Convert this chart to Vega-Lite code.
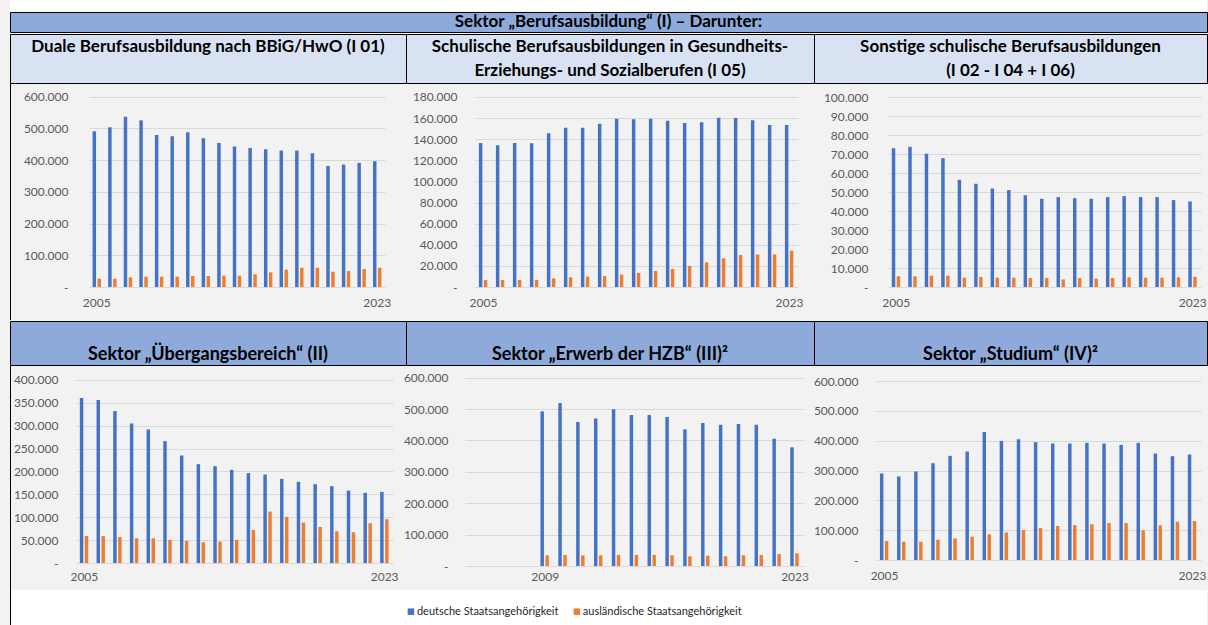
{
  "$schema": "https://vega.github.io/schema/vega-lite/v6.json",
  "background": "#F2F2F2",
  "padding": {"left": 9, "top": 0, "right": 0, "bottom": 0},
  "columns": 1,
  "spacing": 0,
  "datasets": {
    "vals": [
      {"p":"I01","year":2005,"g":"de","v":490900},{"p":"I01","year":2006,"g":"de","v":503500},{"p":"I01","year":2007,"g":"de","v":537000},{"p":"I01","year":2008,"g":"de","v":525500},{"p":"I01","year":2009,"g":"de","v":479400},{"p":"I01","year":2010,"g":"de","v":475200},{"p":"I01","year":2011,"g":"de","v":487800},{"p":"I01","year":2012,"g":"de","v":468900},{"p":"I01","year":2013,"g":"de","v":454200},{"p":"I01","year":2014,"g":"de","v":442700},{"p":"I01","year":2015,"g":"de","v":438500},{"p":"I01","year":2016,"g":"de","v":434300},{"p":"I01","year":2017,"g":"de","v":430100},{"p":"I01","year":2018,"g":"de","v":430100},{"p":"I01","year":2019,"g":"de","v":421700},{"p":"I01","year":2020,"g":"de","v":381800},{"p":"I01","year":2021,"g":"de","v":386000},{"p":"I01","year":2022,"g":"de","v":391300},{"p":"I01","year":2023,"g":"de","v":396500},
      {"p":"I01","year":2005,"g":"aus","v":26200},{"p":"I01","year":2006,"g":"aus","v":26200},{"p":"I01","year":2007,"g":"aus","v":30400},{"p":"I01","year":2008,"g":"aus","v":32500},{"p":"I01","year":2009,"g":"aus","v":32500},{"p":"I01","year":2010,"g":"aus","v":32500},{"p":"I01","year":2011,"g":"aus","v":34600},{"p":"I01","year":2012,"g":"aus","v":34600},{"p":"I01","year":2013,"g":"aus","v":35700},{"p":"I01","year":2014,"g":"aus","v":35700},{"p":"I01","year":2015,"g":"aus","v":39900},{"p":"I01","year":2016,"g":"aus","v":46200},{"p":"I01","year":2017,"g":"aus","v":54500},{"p":"I01","year":2018,"g":"aus","v":60800},{"p":"I01","year":2019,"g":"aus","v":60800},{"p":"I01","year":2020,"g":"aus","v":48300},{"p":"I01","year":2021,"g":"aus","v":50300},{"p":"I01","year":2022,"g":"aus","v":56600},{"p":"I01","year":2023,"g":"aus","v":60800},
      {"p":"I05","year":2005,"g":"de","v":136400},{"p":"I05","year":2006,"g":"de","v":134200},{"p":"I05","year":2007,"g":"de","v":136400},{"p":"I05","year":2008,"g":"de","v":136100},{"p":"I05","year":2009,"g":"de","v":145600},{"p":"I05","year":2010,"g":"de","v":150900},{"p":"I05","year":2011,"g":"de","v":150900},{"p":"I05","year":2012,"g":"de","v":154700},{"p":"I05","year":2013,"g":"de","v":159500},{"p":"I05","year":2014,"g":"de","v":158800},{"p":"I05","year":2015,"g":"de","v":159500},{"p":"I05","year":2016,"g":"de","v":157600},{"p":"I05","year":2017,"g":"de","v":155400},{"p":"I05","year":2018,"g":"de","v":156000},{"p":"I05","year":2019,"g":"de","v":160400},{"p":"I05","year":2020,"g":"de","v":160100},{"p":"I05","year":2021,"g":"de","v":157900},{"p":"I05","year":2022,"g":"de","v":153500},{"p":"I05","year":2023,"g":"de","v":153500},
      {"p":"I05","year":2005,"g":"aus","v":6600},{"p":"I05","year":2006,"g":"aus","v":6600},{"p":"I05","year":2007,"g":"aus","v":6600},{"p":"I05","year":2008,"g":"aus","v":6600},{"p":"I05","year":2009,"g":"aus","v":8200},{"p":"I05","year":2010,"g":"aus","v":9200},{"p":"I05","year":2011,"g":"aus","v":9800},{"p":"I05","year":2012,"g":"aus","v":10400},{"p":"I05","year":2013,"g":"aus","v":11700},{"p":"I05","year":2014,"g":"aus","v":13300},{"p":"I05","year":2015,"g":"aus","v":15200},{"p":"I05","year":2016,"g":"aus","v":17100},{"p":"I05","year":2017,"g":"aus","v":19900},{"p":"I05","year":2018,"g":"aus","v":23400},{"p":"I05","year":2019,"g":"aus","v":27200},{"p":"I05","year":2020,"g":"aus","v":30300},{"p":"I05","year":2021,"g":"aus","v":30900},{"p":"I05","year":2022,"g":"aus","v":30900},{"p":"I05","year":2023,"g":"aus","v":34400},
      {"p":"I02","year":2005,"g":"de","v":73200},{"p":"I02","year":2006,"g":"de","v":73900},{"p":"I02","year":2007,"g":"de","v":70200},{"p":"I02","year":2008,"g":"de","v":67900},{"p":"I02","year":2009,"g":"de","v":56500},{"p":"I02","year":2010,"g":"de","v":54400},{"p":"I02","year":2011,"g":"de","v":51900},{"p":"I02","year":2012,"g":"de","v":51100},{"p":"I02","year":2013,"g":"de","v":48400},{"p":"I02","year":2014,"g":"de","v":46500},{"p":"I02","year":2015,"g":"de","v":47400},{"p":"I02","year":2016,"g":"de","v":46800},{"p":"I02","year":2017,"g":"de","v":46500},{"p":"I02","year":2018,"g":"de","v":47400},{"p":"I02","year":2019,"g":"de","v":47900},{"p":"I02","year":2020,"g":"de","v":47400},{"p":"I02","year":2021,"g":"de","v":47400},{"p":"I02","year":2022,"g":"de","v":45800},{"p":"I02","year":2023,"g":"de","v":45100},
      {"p":"I02","year":2005,"g":"aus","v":5600},{"p":"I02","year":2006,"g":"aus","v":5600},{"p":"I02","year":2007,"g":"aus","v":6000},{"p":"I02","year":2008,"g":"aus","v":6000},{"p":"I02","year":2009,"g":"aus","v":4900},{"p":"I02","year":2010,"g":"aus","v":5300},{"p":"I02","year":2011,"g":"aus","v":4900},{"p":"I02","year":2012,"g":"aus","v":4900},{"p":"I02","year":2013,"g":"aus","v":4700},{"p":"I02","year":2014,"g":"aus","v":4700},{"p":"I02","year":2015,"g":"aus","v":4000},{"p":"I02","year":2016,"g":"aus","v":4700},{"p":"I02","year":2017,"g":"aus","v":4400},{"p":"I02","year":2018,"g":"aus","v":4700},{"p":"I02","year":2019,"g":"aus","v":5100},{"p":"I02","year":2020,"g":"aus","v":4900},{"p":"I02","year":2021,"g":"aus","v":4900},{"p":"I02","year":2022,"g":"aus","v":5100},{"p":"I02","year":2023,"g":"aus","v":5400},
      {"p":"II","year":2005,"g":"de","v":360600},{"p":"II","year":2006,"g":"de","v":356200},{"p":"II","year":2007,"g":"de","v":332100},{"p":"II","year":2008,"g":"de","v":305100},{"p":"II","year":2009,"g":"de","v":292000},{"p":"II","year":2010,"g":"de","v":266400},{"p":"II","year":2011,"g":"de","v":235000},{"p":"II","year":2012,"g":"de","v":216100},{"p":"II","year":2013,"g":"de","v":211700},{"p":"II","year":2014,"g":"de","v":203600},{"p":"II","year":2015,"g":"de","v":196400},{"p":"II","year":2016,"g":"de","v":193400},{"p":"II","year":2017,"g":"de","v":183900},{"p":"II","year":2018,"g":"de","v":177400},{"p":"II","year":2019,"g":"de","v":172300},{"p":"II","year":2020,"g":"de","v":167900},{"p":"II","year":2021,"g":"de","v":158400},{"p":"II","year":2022,"g":"de","v":153300},{"p":"II","year":2023,"g":"de","v":155500},
      {"p":"II","year":2005,"g":"aus","v":59100},{"p":"II","year":2006,"g":"aus","v":59100},{"p":"II","year":2007,"g":"aus","v":56900},{"p":"II","year":2008,"g":"aus","v":54000},{"p":"II","year":2009,"g":"aus","v":54000},{"p":"II","year":2010,"g":"aus","v":50400},{"p":"II","year":2011,"g":"aus","v":48200},{"p":"II","year":2012,"g":"aus","v":45300},{"p":"II","year":2013,"g":"aus","v":46700},{"p":"II","year":2014,"g":"aus","v":50400},{"p":"II","year":2015,"g":"aus","v":72300},{"p":"II","year":2016,"g":"aus","v":112400},{"p":"II","year":2017,"g":"aus","v":100700},{"p":"II","year":2018,"g":"aus","v":88300},{"p":"II","year":2019,"g":"aus","v":78800},{"p":"II","year":2020,"g":"aus","v":69300},{"p":"II","year":2021,"g":"aus","v":67200},{"p":"II","year":2022,"g":"aus","v":86900},{"p":"II","year":2023,"g":"aus","v":95600},
      {"p":"III","year":2009,"g":"de","v":492700},{"p":"III","year":2010,"g":"de","v":519300},{"p":"III","year":2011,"g":"de","v":458800},{"p":"III","year":2012,"g":"de","v":470400},{"p":"III","year":2013,"g":"de","v":499100},{"p":"III","year":2014,"g":"de","v":481100},{"p":"III","year":2015,"g":"de","v":481100},{"p":"III","year":2016,"g":"de","v":474700},{"p":"III","year":2017,"g":"de","v":435400},{"p":"III","year":2018,"g":"de","v":455600},{"p":"III","year":2019,"g":"de","v":450300},{"p":"III","year":2020,"g":"de","v":452400},{"p":"III","year":2021,"g":"de","v":450300},{"p":"III","year":2022,"g":"de","v":405700},{"p":"III","year":2023,"g":"de","v":378100},
      {"p":"III","year":2009,"g":"aus","v":34000},{"p":"III","year":2010,"g":"aus","v":35000},{"p":"III","year":2011,"g":"aus","v":34000},{"p":"III","year":2012,"g":"aus","v":34000},{"p":"III","year":2013,"g":"aus","v":35000},{"p":"III","year":2014,"g":"aus","v":35000},{"p":"III","year":2015,"g":"aus","v":35000},{"p":"III","year":2016,"g":"aus","v":34000},{"p":"III","year":2017,"g":"aus","v":30800},{"p":"III","year":2018,"g":"aus","v":32900},{"p":"III","year":2019,"g":"aus","v":30800},{"p":"III","year":2020,"g":"aus","v":34000},{"p":"III","year":2021,"g":"aus","v":35000},{"p":"III","year":2022,"g":"aus","v":38200},{"p":"III","year":2023,"g":"aus","v":40400},
      {"p":"IV","year":2005,"g":"de","v":290000},{"p":"IV","year":2006,"g":"de","v":279900},{"p":"IV","year":2007,"g":"de","v":296700},{"p":"IV","year":2008,"g":"de","v":324500},{"p":"IV","year":2009,"g":"de","v":349100},{"p":"IV","year":2010,"g":"de","v":363600},{"p":"IV","year":2011,"g":"de","v":429400},{"p":"IV","year":2012,"g":"de","v":399300},{"p":"IV","year":2013,"g":"de","v":404800},{"p":"IV","year":2014,"g":"de","v":394800},{"p":"IV","year":2015,"g":"de","v":390300},{"p":"IV","year":2016,"g":"de","v":390300},{"p":"IV","year":2017,"g":"de","v":392600},{"p":"IV","year":2018,"g":"de","v":390300},{"p":"IV","year":2019,"g":"de","v":385900},{"p":"IV","year":2020,"g":"de","v":392600},{"p":"IV","year":2021,"g":"de","v":356900},{"p":"IV","year":2022,"g":"de","v":347900},{"p":"IV","year":2023,"g":"de","v":353500},
      {"p":"IV","year":2005,"g":"aus","v":63600},{"p":"IV","year":2006,"g":"aus","v":61300},{"p":"IV","year":2007,"g":"aus","v":61300},{"p":"IV","year":2008,"g":"aus","v":68000},{"p":"IV","year":2009,"g":"aus","v":72500},{"p":"IV","year":2010,"g":"aus","v":78100},{"p":"IV","year":2011,"g":"aus","v":85900},{"p":"IV","year":2012,"g":"aus","v":92600},{"p":"IV","year":2013,"g":"aus","v":100400},{"p":"IV","year":2014,"g":"aus","v":107000},{"p":"IV","year":2015,"g":"aus","v":113800},{"p":"IV","year":2016,"g":"aus","v":117100},{"p":"IV","year":2017,"g":"aus","v":119300},{"p":"IV","year":2018,"g":"aus","v":123800},{"p":"IV","year":2019,"g":"aus","v":123800},{"p":"IV","year":2020,"g":"aus","v":99300},{"p":"IV","year":2021,"g":"aus","v":116000},{"p":"IV","year":2022,"g":"aus","v":128300},{"p":"IV","year":2023,"g":"aus","v":130500}
    ],
    "legendItems": [
      {"g":"de","label":"deutsche Staatsangehörigkeit"},
      {"g":"aus","label":"ausländische Staatsangehörigkeit"}
    ]
  },
  "concat": [
    {
      "width": 1197, "height": 11,
      "view": {"fill": "#FFFFFF", "stroke": null},
      "data": {"values": []},
      "mark": "point"
    },
    {
      "width": 1197, "height": 20,
      "view": {"fill": "#8EAADB", "stroke": "#000000", "strokeWidth": 1},
      "data": {"values": [{}]},
      "mark": {"type": "text", "clip": true, "text": "Sektor „Berufsausbildung“ (I) – Darunter:", "font": "Lato", "fontSize": 17, "fontWeight": "bold", "color": "#000000", "align": "center", "baseline": "middle"}
    },
    {
      "hconcat": [
        {
          "width": 396, "height": 49,
          "view": {"fill": "#D9E2F3", "stroke": "#000000", "strokeWidth": 1},
          "data": {"values": [{}]},
          "mark": {"type": "text", "clip": true, "text": ["Duale Berufsausbildung nach BBiG/HwO (I 01)", ""], "dy": -12, "lineHeight": 24, "font": "Lato", "fontSize": 17, "fontWeight": "bold", "color": "#000000", "align": "center", "baseline": "middle"}
        },
        {
          "width": 408, "height": 49,
          "view": {"fill": "#D9E2F3", "stroke": "#000000", "strokeWidth": 1},
          "data": {"values": [{}]},
          "mark": {"type": "text", "clip": true, "text": ["Schulische Berufsausbildungen in Gesundheits-", "Erziehungs- und Sozialberufen (I 05)"], "dy": -12, "lineHeight": 24, "font": "Lato", "fontSize": 17, "fontWeight": "bold", "color": "#000000", "align": "center", "baseline": "middle"}
        },
        {
          "width": 393, "height": 49,
          "view": {"fill": "#D9E2F3", "stroke": "#000000", "strokeWidth": 1},
          "data": {"values": [{}]},
          "mark": {"type": "text", "clip": true, "text": ["Sonstige schulische Berufsausbildungen", "(I 02 - I 04 + I 06)"], "dy": -12, "lineHeight": 24, "font": "Lato", "fontSize": 17, "fontWeight": "bold", "color": "#000000", "align": "center", "baseline": "middle"}
        }
      ],
      "spacing": 0,
      "bounds": "flush"
    },
    {
      "hconcat": [
        {
          "width": 1, "height": 236,
          "view": {"fill": "#000000", "stroke": null},
          "data": {"values": []},
          "mark": "point"
        },
        {
          "hconcat": [
            {
              "width": 296, "height": 203,
              "data": {"name": "vals"},
              "transform": [{"filter": "datum.p === 'I01'"}],
              "mark": {"type": "bar"},
              "encoding": {
                "x": {"field": "year", "type": "ordinal", "title": null,
                      "scale": {"domain": [2005,2006,2007,2008,2009,2010,2011,2012,2013,2014,2015,2016,2017,2018,2019,2020,2021,2022,2023], "paddingInner": 0.46, "paddingOuter": 0.23},
                      "axis": {"values": [2005, 2023], "labelAngle": 0, "labelPadding": 10, "minExtent": 33, "maxExtent": 33}},
                "xOffset": {"field": "g", "scale": {"domain": ["de", "aus"], "paddingInner": 0.3, "paddingOuter": 0}},
                "y": {"field": "v", "type": "quantitative", "title": null,
                      "scale": {"domain": [0, 640000], "nice": false},
                      "axis": {"values": [0,100000,200000,300000,400000,500000,600000], "labelPadding": 21, "minExtent": 78, "maxExtent": 78,
                               "labelExpr": "datum.value === 0 ? '-\u00a0\u00a0\u00a0' : replace(format(datum.value, ','), ',', '.')"}},
                "color": {"field": "g", "scale": {"domain": ["de", "aus"], "range": ["#4472C4", "#ED7D31"]}, "legend": null}
              }
            },
            {
              "width": 323, "height": 203,
              "data": {"name": "vals"},
              "transform": [{"filter": "datum.p === 'I05'"}],
              "mark": {"type": "bar"},
              "encoding": {
                "x": {"field": "year", "type": "ordinal", "title": null,
                      "scale": {"domain": [2005,2006,2007,2008,2009,2010,2011,2012,2013,2014,2015,2016,2017,2018,2019,2020,2021,2022,2023], "paddingInner": 0.46, "paddingOuter": 0.23},
                      "axis": {"values": [2005, 2023], "labelAngle": 0, "labelPadding": 10, "minExtent": 33, "maxExtent": 33}},
                "xOffset": {"field": "g", "scale": {"domain": ["de", "aus"], "paddingInner": 0.3, "paddingOuter": 0}},
                "y": {"field": "v", "type": "quantitative", "title": null,
                      "scale": {"domain": [0, 192300], "nice": false},
                      "axis": {"values": [0,20000,40000,60000,80000,100000,120000,140000,160000,180000], "labelPadding": 18,
                               "labelExpr": "datum.value === 0 ? '-\u00a0\u00a0\u00a0' : replace(format(datum.value, ','), ',', '.')"}},
                "color": {"field": "g", "scale": {"domain": ["de", "aus"], "range": ["#4472C4", "#ED7D31"]}, "legend": null}
              }
            },
            {
              "width": 313, "height": 203,
              "data": {"name": "vals"},
              "transform": [{"filter": "datum.p === 'I02'"}],
              "mark": {"type": "bar"},
              "encoding": {
                "x": {"field": "year", "type": "ordinal", "title": null,
                      "scale": {"domain": [2005,2006,2007,2008,2009,2010,2011,2012,2013,2014,2015,2016,2017,2018,2019,2020,2021,2022,2023], "paddingInner": 0.46, "paddingOuter": 0.23},
                      "axis": {"values": [2005, 2023], "labelAngle": 0, "labelPadding": 10, "minExtent": 33, "maxExtent": 33}},
                "xOffset": {"field": "g", "scale": {"domain": ["de", "aus"], "paddingInner": 0.3, "paddingOuter": 0}},
                "y": {"field": "v", "type": "quantitative", "title": null,
                      "scale": {"domain": [0, 107000], "nice": false},
                      "axis": {"values": [0,10000,20000,30000,40000,50000,60000,70000,80000,90000,100000], "labelPadding": 20,
                               "labelExpr": "datum.value === 0 ? '-\u00a0\u00a0\u00a0' : replace(format(datum.value, ','), ',', '.')"}},
                "color": {"field": "g", "scale": {"domain": ["de", "aus"], "range": ["#4472C4", "#ED7D31"]}, "legend": null}
              }
            }
          ],
          "spacing": 90,
          "bounds": "flush"
        }
      ],
      "spacing": 0
    },
    {
      "hconcat": [
        {
          "width": 396, "height": 44,
          "view": {"fill": "#8EAADB", "stroke": "#000000", "strokeWidth": 1},
          "data": {"values": [{}]},
          "mark": {"type": "text", "clip": true, "text": ["", "Sektor „Übergangsbereich“ (II)"], "dy": -12, "lineHeight": 24, "font": "Lato", "fontSize": 18, "fontWeight": "bold", "color": "#000000", "align": "center", "baseline": "middle"}
        },
        {
          "width": 408, "height": 44,
          "view": {"fill": "#8EAADB", "stroke": "#000000", "strokeWidth": 1},
          "data": {"values": [{}]},
          "mark": {"type": "text", "clip": true, "text": ["", "Sektor „Erwerb der HZB“ (III)²"], "dy": -12, "lineHeight": 24, "font": "Lato", "fontSize": 18, "fontWeight": "bold", "color": "#000000", "align": "center", "baseline": "middle"}
        },
        {
          "width": 393, "height": 44,
          "view": {"fill": "#8EAADB", "stroke": "#000000", "strokeWidth": 1},
          "data": {"values": [{}]},
          "mark": {"type": "text", "clip": true, "text": ["", "Sektor „Studium“ (IV)²"], "dy": -12, "lineHeight": 24, "font": "Lato", "fontSize": 18, "fontWeight": "bold", "color": "#000000", "align": "center", "baseline": "middle"}
        }
      ],
      "spacing": 0,
      "bounds": "flush"
    },
    {
      "hconcat": [
        {
          "width": 1, "height": 224,
          "view": {"fill": "#000000", "stroke": null},
          "data": {"values": []},
          "mark": "point"
        },
        {
          "hconcat": [
            {
              "width": 317, "height": 197,
              "data": {"name": "vals"},
              "transform": [{"filter": "datum.p === 'II'"}],
              "mark": {"type": "bar"},
              "encoding": {
                "x": {"field": "year", "type": "ordinal", "title": null,
                      "scale": {"domain": [2005,2006,2007,2008,2009,2010,2011,2012,2013,2014,2015,2016,2017,2018,2019,2020,2021,2022,2023], "paddingInner": 0.46, "paddingOuter": 0.23},
                      "axis": {"values": [2005, 2023], "labelAngle": 0, "labelPadding": 8, "minExtent": 27, "maxExtent": 27}},
                "xOffset": {"field": "g", "scale": {"domain": ["de", "aus"], "paddingInner": 0.3, "paddingOuter": 0}},
                "y": {"field": "v", "type": "quantitative", "title": null,
                      "scale": {"domain": [0, 430600], "nice": false},
                      "axis": {"values": [0,50000,100000,150000,200000,250000,300000,350000,400000], "labelPadding": 18, "minExtent": 65, "maxExtent": 65,
                               "labelExpr": "datum.value === 0 ? '-\u00a0\u00a0\u00a0' : replace(format(datum.value, ','), ',', '.')"}},
                "color": {"field": "g", "scale": {"domain": ["de", "aus"], "range": ["#4472C4", "#ED7D31"]}, "legend": null}
              }
            },
            {
              "width": 339, "height": 200,
              "data": {"name": "vals"},
              "transform": [{"filter": "datum.p === 'III'"}],
              "mark": {"type": "bar"},
              "encoding": {
                "x": {"field": "year", "type": "ordinal", "title": null,
                      "scale": {"domain": [2005,2006,2007,2008,2009,2010,2011,2012,2013,2014,2015,2016,2017,2018,2019,2020,2021,2022,2023], "paddingInner": 0.46, "paddingOuter": 0.23},
                      "axis": {"values": [2009, 2023], "labelAngle": 0, "labelPadding": 5, "minExtent": 24, "maxExtent": 24}},
                "xOffset": {"field": "g", "scale": {"domain": ["de", "aus"], "paddingInner": 0.3, "paddingOuter": 0}},
                "y": {"field": "v", "type": "quantitative", "title": null,
                      "scale": {"domain": [0, 637300], "nice": false},
                      "axis": {"values": [0,100000,200000,300000,400000,500000,600000], "labelPadding": 17,
                               "labelExpr": "datum.value === 0 ? '-\u00a0\u00a0\u00a0' : replace(format(datum.value, ','), ',', '.')"}},
                "color": {"field": "g", "scale": {"domain": ["de", "aus"], "range": ["#4472C4", "#ED7D31"]}, "legend": null}
              }
            },
            {
              "width": 325, "height": 194,
              "data": {"name": "vals"},
              "transform": [{"filter": "datum.p === 'IV'"}],
              "mark": {"type": "bar"},
              "encoding": {
                "x": {"field": "year", "type": "ordinal", "title": null,
                      "scale": {"domain": [2005,2006,2007,2008,2009,2010,2011,2012,2013,2014,2015,2016,2017,2018,2019,2020,2021,2022,2023], "paddingInner": 0.46, "paddingOuter": 0.23},
                      "axis": {"values": [2005, 2023], "labelAngle": 0, "labelPadding": 10, "minExtent": 30, "maxExtent": 30}},
                "xOffset": {"field": "g", "scale": {"domain": ["de", "aus"], "paddingInner": 0.3, "paddingOuter": 0}},
                "y": {"field": "v", "type": "quantitative", "title": null,
                      "scale": {"domain": [0, 650300], "nice": false},
                      "axis": {"values": [0,100000,200000,300000,400000,500000,600000], "labelPadding": 18,
                               "labelExpr": "datum.value === 0 ? '-\u00a0\u00a0\u00a0' : replace(format(datum.value, ','), ',', '.')"}},
                "color": {"field": "g", "scale": {"domain": ["de", "aus"], "range": ["#4472C4", "#ED7D31"]}, "legend": null}
              }
            }
          ],
          "spacing": 72,
          "bounds": "flush"
        }
      ],
      "spacing": 0
    },
    {
      "hconcat": [
        {
          "width": 1, "height": 35,
          "view": {"fill": "#000000", "stroke": null},
          "data": {"values": []},
          "mark": "point"
        },
        {
          "width": 382, "height": 35,
          "view": {"fill": "#FFFFFF", "stroke": null},
          "data": {"values": []},
          "mark": "point"
        },
        {
          "width": 365, "height": 35,
          "view": {"fill": "#FFFFFF", "stroke": null},
          "data": {"name": "legendItems"},
          "layer": [
            {
              "mark": {"type": "square", "size": 42, "opacity": 1, "filled": true},
              "encoding": {
                "x": {"field": "g", "type": "nominal", "axis": null, "scale": {"type": "point", "domain": ["de", "aus"], "padding": 0.6, "align": 0.09}},
                "y": {"datum": "legend", "type": "nominal", "axis": null, "scale": {"type": "point", "align": 0.62}},
                "color": {"field": "g", "scale": {"domain": ["de", "aus"], "range": ["#4472C4", "#ED7D31"]}, "legend": null}
              }
            },
            {
              "mark": {"type": "text", "align": "left", "dx": 6, "font": "Lato", "fontSize": 11, "color": "#262626", "baseline": "middle"},
              "encoding": {
                "x": {"field": "g", "type": "nominal", "axis": null, "scale": {"type": "point", "domain": ["de", "aus"], "padding": 0.6, "align": 0.09}},
                "y": {"datum": "legend", "type": "nominal", "axis": null, "scale": {"type": "point", "align": 0.62}},
                "text": {"field": "label"}
              }
            }
          ]
        },
        {
          "width": 449, "height": 35,
          "view": {"fill": "#FFFFFF", "stroke": null},
          "data": {"values": []},
          "mark": "point"
        }
      ],
      "spacing": 0,
      "bounds": "flush"
    }
  ],
  "config": {
    "view": {"stroke": null},
    "font": "Lato",
    "axis": {
      "labelFont": "Lato",
      "labelFontSize": 12,
      "labelColor": "#595959",
      "ticks": false,
      "tickSize": 0,
      "domain": false,
      "gridColor": "#D9D9D9",
      "gridWidth": 1
    },
    "axisX": {"grid": false},
    "legend": {"disable": true}
  }
}
